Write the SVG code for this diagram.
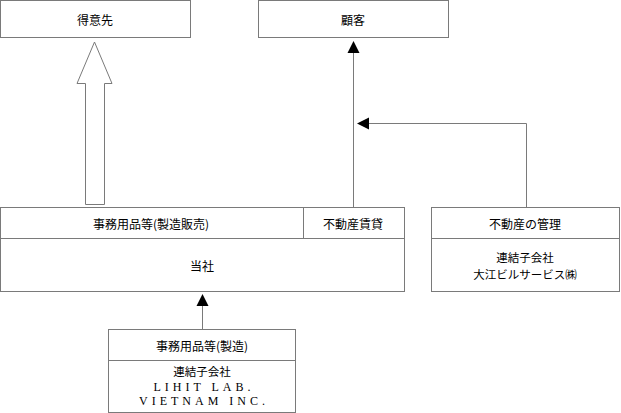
<svg xmlns="http://www.w3.org/2000/svg" width="621" height="413" viewBox="0 0 621 413">
<defs>
<style>
.box{fill:#fff;stroke:#7a7a7a;stroke-width:1}
.ln{fill:none;stroke:#7a7a7a;stroke-width:1}
.t{font-family:"Noto Sans CJK JP","Liberation Sans",sans-serif;font-size:12px;fill:#000;text-anchor:middle;dominant-baseline:central}
.s{font-family:"Liberation Serif",serif;font-size:12px;fill:#000;text-anchor:middle;dominant-baseline:central;letter-spacing:4px}
.ah{fill:#000;stroke:none}
</style>
</defs>
<rect width="621" height="413" fill="#fff"/>
<g id="tokuisaki">
<rect class="box" x="0.5" y="0.5" width="190" height="37"/>
<text class="t" x="95" y="19">得意先</text>
</g>
<g id="kokyaku">
<rect class="box" x="258.5" y="0.5" width="190" height="37"/>
<text class="t" x="353" y="19">顧客</text>
</g>
<g id="tousha">
<rect class="box" x="0.5" y="207.5" width="404" height="84"/>
<line class="ln" x1="0.5" y1="238.5" x2="404.5" y2="238.5"/>
<line class="ln" x1="303.5" y1="207.5" x2="303.5" y2="238.5"/>
<text class="t" x="151" y="223">事務用品等(製造販売)</text>
<text class="t" x="353" y="223">不動産賃貸</text>
<text class="t" x="202" y="265">当社</text>
</g>
<g id="oe">
<rect class="box" x="431.5" y="207.5" width="188" height="84"/>
<line class="ln" x1="431.5" y1="238.5" x2="619.5" y2="238.5"/>
<text class="t" x="525" y="223">不動産の管理</text>
<text class="t" x="525" y="257" style="font-size:11.5px">連結子会社</text>
<text class="t" x="525" y="274" style="font-size:11.5px">大江ビルサービス㈱</text>
</g>
<g id="lihit">
<rect class="box" x="108.5" y="329.5" width="187" height="83"/>
<line class="ln" x1="108.5" y1="360.5" x2="295.5" y2="360.5"/>
<text class="t" x="202" y="345">事務用品等(製造)</text>
<text class="t" x="202" y="371" style="font-size:11.5px">連結子会社</text>
<text class="s" x="204" y="387">LIHIT LAB.</text>
<text class="s" x="204" y="401">VIETNAM INC.</text>
</g>
<g id="connectors">
<polygon class="box" points="94.5,42 77,83.5 85.5,83.5 85.5,204.5 104.5,204.5 104.5,83.5 112,83.5"/>
<line class="ln" x1="353.5" y1="207" x2="353.5" y2="52"/>
<polygon class="ah" points="353.5,41 347.5,53 359.5,53"/>
<polyline class="ln" points="526.5,207 526.5,123.5 367,123.5"/>
<polygon class="ah" points="357,123.5 369,117.5 369,129.5"/>
<line class="ln" x1="202.5" y1="329" x2="202.5" y2="305"/>
<polygon class="ah" points="202.5,294 196.5,306 208.5,306"/>
</g>
</svg>
